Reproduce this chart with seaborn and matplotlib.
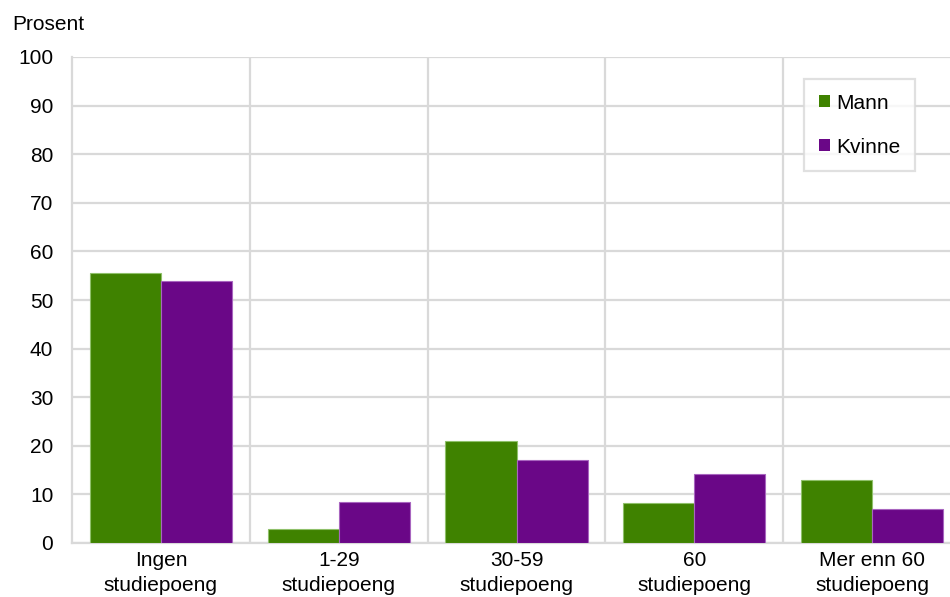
import matplotlib
matplotlib.use("Agg")
import matplotlib.pyplot as plt
import seaborn as sns
import pandas as pd
import numpy as np

categories = ["Ingen\nstudiepoeng", "1-29\nstudiepoeng", "30-59\nstudiepoeng", "60\nstudiepoeng", "Mer enn 60\nstudiepoeng"]
mann = [55.6, 2.8, 21.0, 8.2, 12.9]
kvinne = [53.9, 8.5, 17.1, 14.1, 7.0]
series = ["Mann", "Kvinne"]
colors = {"Mann": "#3F8200", "Kvinne": "#6A0787"}
edges = {"Mann": "#8FC06A", "Kvinne": "#A865BF"}
yticks = list(range(0, 101, 10))

df = pd.DataFrame({
    "kategori": categories * 2,
    "verdi": mann + kvinne,
    "kjonn": ["Mann"] * len(categories) + ["Kvinne"] * len(categories),
})

sns.set_theme(style="white")
plt.rcParams["font.family"] = ["Liberation Sans", "DejaVu Sans"]
plt.rcParams["text.color"] = "black"
plt.rcParams["xtick.color"] = "black"
plt.rcParams["ytick.color"] = "black"

fig = plt.figure(figsize=(9.5, 5.97), dpi=100)
ax = fig.add_axes([72/950, 1-543/597, (961-72)/950, (543-57)/597])

sns.barplot(data=df, x="kategori", y="verdi", hue="kjonn", hue_order=series,
            palette=colors, width=0.8, gap=0, ax=ax, linewidth=0.8,
            saturation=1, legend=True)

for cont, s in zip(ax.containers, series):
    for p in cont.patches:
        p.set_edgecolor(edges[s])
        p.set_zorder(3)

ax.set_xlim(-0.5, len(categories) - 0.5)
ax.set_ylim(0, 100)
ax.set_yticks(yticks)
ax.set_xticks(np.arange(len(categories)))
ax.set_xticks(np.arange(len(categories) - 1) + 0.5, minor=True)
ax.set_xticklabels(categories, fontsize=15, linespacing=1.38, color="black")
ax.tick_params(axis="y", labelsize=15, length=0, pad=13.5, labelcolor="black")
ax.tick_params(axis="x", which="both", length=0, pad=6, labelcolor="black")
ax.set_xlabel("")
ax.set_ylabel("")

gc = "#D9D9D9"
ax.grid(axis="y", color=gc, linewidth=1.6, zorder=0)
ax.grid(axis="x", which="minor", color=gc, linewidth=1.6, zorder=0)
ax.grid(axis="x", which="major", visible=False)
ax.set_axisbelow(True)
for side in ["top", "right"]:
    ax.spines[side].set_visible(False)
for side in ["left", "bottom"]:
    ax.spines[side].set_color(gc)
    ax.spines[side].set_linewidth(1.6)

handles, labels = ax.get_legend_handles_labels()
leg = ax.legend(handles, labels, loc="upper left",
                bbox_to_anchor=((804-72)/889, (543-79)/486),
                frameon=True, fancybox=False, fontsize=15,
                handlelength=0.55, handleheight=0.55, handletextpad=0.3,
                labelspacing=1.2, borderpad=0.7, borderaxespad=0)
leg.get_frame().set_edgecolor(gc)
leg.get_frame().set_linewidth(1.6)
for h in leg.legend_handles:
    h.set_linewidth(0)
for t in leg.get_texts():
    t.set_color("black")

fig.text(12/950, 1-30/597, "Prosent", fontsize=15, ha="left", va="baseline", color="black")

fig.savefig("out.png", dpi=100)
